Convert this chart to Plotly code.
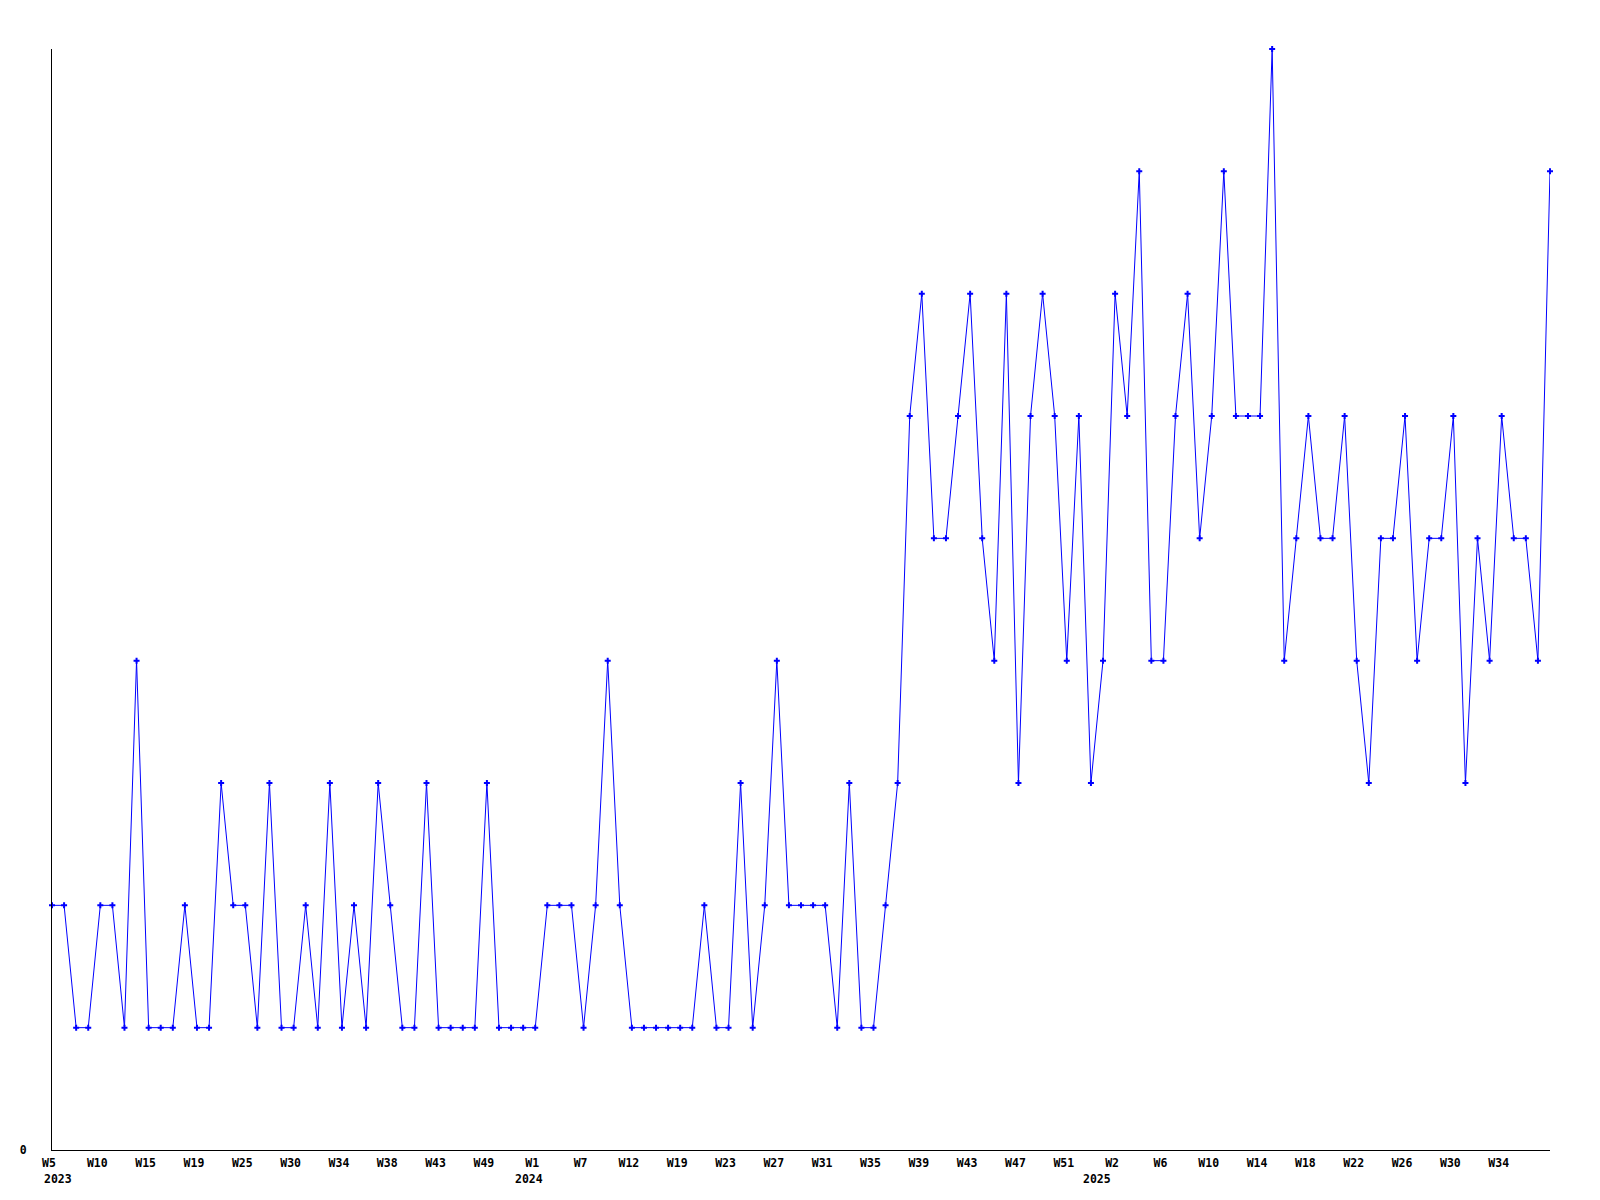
import plotly.graph_objects as go

values = [2, 2, 1, 1, 2, 2, 1, 4, 1, 1, 1, 2, 1, 1, 3, 2, 2, 1, 3, 1,
          1, 2, 1, 3, 1, 2, 1, 3, 2, 1, 1, 3, 1, 1, 1, 1, 3, 1, 1, 1,
          1, 2, 2, 2, 1, 2, 4, 2, 1, 1, 1, 1, 1, 1, 2, 1, 1, 3, 1, 2,
          4, 2, 2, 2, 2, 1, 3, 1, 1, 2, 3, 6, 7, 5, 5, 6, 7, 5, 4, 7,
          3, 6, 7, 6, 4, 6, 3, 4, 7, 6, 8, 4, 4, 6, 7, 5, 6, 8, 6, 6,
          6, 9, 4, 5, 6, 5, 5, 6, 4, 3, 5, 5, 6, 4, 5, 5, 6, 3, 5, 4,
          6, 5, 5, 4, 8]
x_index = list(range(len(values)))

week_labels = ["W5", "W10", "W15", "W19", "W25", "W30", "W34", "W38", "W43", "W49",
               "W1", "W7", "W12", "W19", "W23", "W27", "W31", "W35", "W39", "W43",
               "W47", "W51", "W2", "W6", "W10", "W14", "W18", "W22", "W26", "W30", "W34"]
week_positions = [i * 4 for i in range(len(week_labels))]

year_labels = ["2023", "2024", "2025"]
year_positions = [0, 39.5, 86.5]
year_anchor = ["left", "center", "center"]

FONT = "DejaVu Sans Mono"

fig = go.Figure()
fig.add_trace(go.Scatter(
    x=x_index, y=values, mode="lines+markers",
    line=dict(color="#0000FF", width=1),
    marker=dict(symbol="cross", size=5, color="#0000FF"),
    cliponaxis=False, showlegend=False, hoverinfo="skip",
))

for lab, pos, anc in zip(year_labels, year_positions, year_anchor):
    fig.add_annotation(x=pos, y=0, xref="x", yref="y", text="<b>" + lab + "</b>",
                       showarrow=False, xanchor=anc, yanchor="top", yshift=-20,
                       xshift=-10 if anc == "left" else 0,
                       font=dict(family=FONT, size=11.5, color="black"))

fig.update_layout(
    width=1600, height=1200,
    margin=dict(l=42, r=58, t=41, b=58),
    paper_bgcolor="white", plot_bgcolor="white",
    xaxis=dict(range=[0, len(values) - 1], showgrid=False, zeroline=False,
               showline=True, linecolor="black", linewidth=1,
               tickvals=week_positions, ticktext=["<b>" + t + "</b>" for t in week_labels],
               tickfont=dict(family=FONT, size=11.5, color="black"),
               ticks="", ticklabelstandoff=2, ticklabelshift=-3),
    yaxis=dict(range=[0, 9], showgrid=False, zeroline=False,
               showline=True, linecolor="black", linewidth=1,
               tickvals=[0], ticktext=["<b>0</b>"],
               tickfont=dict(family=FONT, size=11.5, color="black"),
               ticks="", ticklabelstandoff=22),
)

fig.write_html("out.html")
